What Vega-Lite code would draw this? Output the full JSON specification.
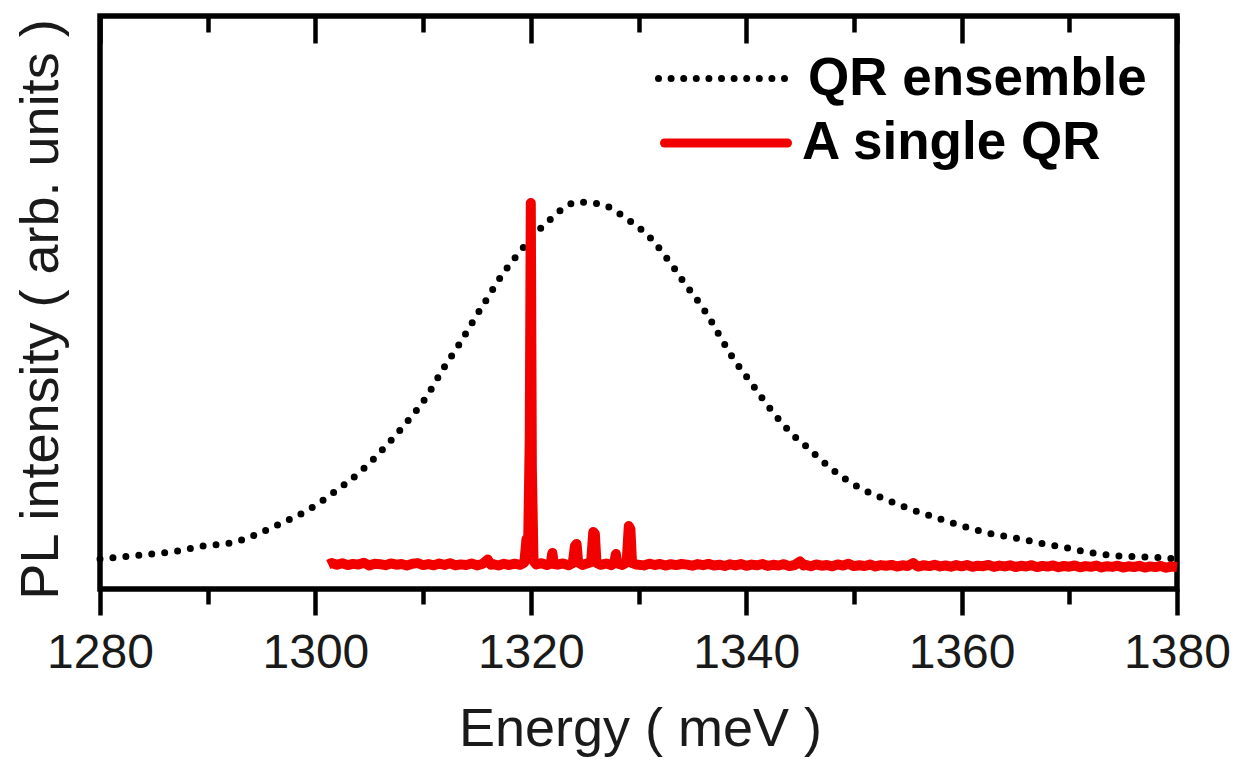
{
  "$schema": "https://vega.github.io/schema/vega-lite/v6.json",
  "autosize": "none",
  "width": 1077,
  "height": 573,
  "padding": {"left": 100, "top": 16, "right": 73, "bottom": 171},
  "background": "white",
  "config": {
    "view": {"stroke": "black", "strokeWidth": 5.5},
    "font": "Liberation Sans"
  },
  "datasets": {
    "ensemble": [
      {"energy": 1280.0, "intensity": 30, "series": "QR ensemble"},
      {"energy": 1280.93, "intensity": 31, "series": "QR ensemble"},
      {"energy": 1284.83, "intensity": 35, "series": "QR ensemble"},
      {"energy": 1287.24, "intensity": 38, "series": "QR ensemble"},
      {"energy": 1289.56, "intensity": 43, "series": "QR ensemble"},
      {"energy": 1292.07, "intensity": 46, "series": "QR ensemble"},
      {"energy": 1293.18, "intensity": 49, "series": "QR ensemble"},
      {"energy": 1294.39, "intensity": 54, "series": "QR ensemble"},
      {"energy": 1296.9, "intensity": 66, "series": "QR ensemble"},
      {"energy": 1299.31, "intensity": 79, "series": "QR ensemble"},
      {"energy": 1301.63, "intensity": 96, "series": "QR ensemble"},
      {"energy": 1304.14, "intensity": 117, "series": "QR ensemble"},
      {"energy": 1306.46, "intensity": 142, "series": "QR ensemble"},
      {"energy": 1308.5, "intensity": 167, "series": "QR ensemble"},
      {"energy": 1310.36, "intensity": 193, "series": "QR ensemble"},
      {"energy": 1311.85, "intensity": 220, "series": "QR ensemble"},
      {"energy": 1313.43, "intensity": 246, "series": "QR ensemble"},
      {"energy": 1314.82, "intensity": 271, "series": "QR ensemble"},
      {"energy": 1316.21, "intensity": 295, "series": "QR ensemble"},
      {"energy": 1316.95, "intensity": 308, "series": "QR ensemble"},
      {"energy": 1318.81, "intensity": 335, "series": "QR ensemble"},
      {"energy": 1319.74, "intensity": 347, "series": "QR ensemble"},
      {"energy": 1320.85, "intensity": 360, "series": "QR ensemble"},
      {"energy": 1322.06, "intensity": 372, "series": "QR ensemble"},
      {"energy": 1323.18, "intensity": 382, "series": "QR ensemble"},
      {"energy": 1324.38, "intensity": 387, "series": "QR ensemble"},
      {"energy": 1325.68, "intensity": 386, "series": "QR ensemble"},
      {"energy": 1326.8, "intensity": 384, "series": "QR ensemble"},
      {"energy": 1328.0, "intensity": 377, "series": "QR ensemble"},
      {"energy": 1329.21, "intensity": 368, "series": "QR ensemble"},
      {"energy": 1330.42, "intensity": 358, "series": "QR ensemble"},
      {"energy": 1331.53, "intensity": 346, "series": "QR ensemble"},
      {"energy": 1332.46, "intensity": 333, "series": "QR ensemble"},
      {"energy": 1333.3, "intensity": 321, "series": "QR ensemble"},
      {"energy": 1334.13, "intensity": 308, "series": "QR ensemble"},
      {"energy": 1335.25, "intensity": 292, "series": "QR ensemble"},
      {"energy": 1336.64, "intensity": 270, "series": "QR ensemble"},
      {"energy": 1337.38, "intensity": 256, "series": "QR ensemble"},
      {"energy": 1338.77, "intensity": 231, "series": "QR ensemble"},
      {"energy": 1340.54, "intensity": 205, "series": "QR ensemble"},
      {"energy": 1341.47, "intensity": 191, "series": "QR ensemble"},
      {"energy": 1343.32, "intensity": 166, "series": "QR ensemble"},
      {"energy": 1344.35, "intensity": 154, "series": "QR ensemble"},
      {"energy": 1345.65, "intensity": 142, "series": "QR ensemble"},
      {"energy": 1346.85, "intensity": 130, "series": "QR ensemble"},
      {"energy": 1348.06, "intensity": 119, "series": "QR ensemble"},
      {"energy": 1350.38, "intensity": 102, "series": "QR ensemble"},
      {"energy": 1352.89, "intensity": 90, "series": "QR ensemble"},
      {"energy": 1355.21, "intensity": 80, "series": "QR ensemble"},
      {"energy": 1357.72, "intensity": 71, "series": "QR ensemble"},
      {"energy": 1360.04, "intensity": 63, "series": "QR ensemble"},
      {"energy": 1362.45, "intensity": 56, "series": "QR ensemble"},
      {"energy": 1364.96, "intensity": 51, "series": "QR ensemble"},
      {"energy": 1367.28, "intensity": 46, "series": "QR ensemble"},
      {"energy": 1369.79, "intensity": 41, "series": "QR ensemble"},
      {"energy": 1372.2, "intensity": 36, "series": "QR ensemble"},
      {"energy": 1374.71, "intensity": 33, "series": "QR ensemble"},
      {"energy": 1377.03, "intensity": 32, "series": "QR ensemble"},
      {"energy": 1378.89, "intensity": 31, "series": "QR ensemble"},
      {"energy": 1380.0, "intensity": 30, "series": "QR ensemble"}
    ],
    "single": [
      {"energy": 1301.2, "intensity": 24.5, "series": "A single QR"},
      {"energy": 1301.5, "intensity": 26.0, "series": "A single QR"},
      {"energy": 1302.0, "intensity": 24.2, "series": "A single QR"},
      {"energy": 1302.5, "intensity": 25.8, "series": "A single QR"},
      {"energy": 1303.0, "intensity": 23.9, "series": "A single QR"},
      {"energy": 1303.5, "intensity": 25.1, "series": "A single QR"},
      {"energy": 1304.0, "intensity": 24.4, "series": "A single QR"},
      {"energy": 1304.5, "intensity": 26.2, "series": "A single QR"},
      {"energy": 1305.0, "intensity": 23.6, "series": "A single QR"},
      {"energy": 1305.5, "intensity": 25.3, "series": "A single QR"},
      {"energy": 1306.0, "intensity": 24.8, "series": "A single QR"},
      {"energy": 1306.5, "intensity": 23.8, "series": "A single QR"},
      {"energy": 1307.0, "intensity": 25.6, "series": "A single QR"},
      {"energy": 1307.5, "intensity": 24.3, "series": "A single QR"},
      {"energy": 1308.0, "intensity": 25.0, "series": "A single QR"},
      {"energy": 1308.5, "intensity": 23.5, "series": "A single QR"},
      {"energy": 1309.0, "intensity": 25.2, "series": "A single QR"},
      {"energy": 1309.5, "intensity": 25.9, "series": "A single QR"},
      {"energy": 1310.0, "intensity": 23.9, "series": "A single QR"},
      {"energy": 1310.5, "intensity": 24.9, "series": "A single QR"},
      {"energy": 1311.0, "intensity": 23.7, "series": "A single QR"},
      {"energy": 1311.5, "intensity": 25.4, "series": "A single QR"},
      {"energy": 1312.0, "intensity": 24.1, "series": "A single QR"},
      {"energy": 1312.5, "intensity": 25.7, "series": "A single QR"},
      {"energy": 1313.0, "intensity": 23.8, "series": "A single QR"},
      {"energy": 1313.5, "intensity": 24.6, "series": "A single QR"},
      {"energy": 1314.0, "intensity": 24.0, "series": "A single QR"},
      {"energy": 1314.5, "intensity": 25.5, "series": "A single QR"},
      {"energy": 1315.0, "intensity": 23.6, "series": "A single QR"},
      {"energy": 1315.5, "intensity": 25.0, "series": "A single QR"},
      {"energy": 1316.0, "intensity": 29.5, "series": "A single QR"},
      {"energy": 1316.3, "intensity": 24.2, "series": "A single QR"},
      {"energy": 1316.5, "intensity": 24.8, "series": "A single QR"},
      {"energy": 1317.0, "intensity": 23.5, "series": "A single QR"},
      {"energy": 1317.5, "intensity": 25.2, "series": "A single QR"},
      {"energy": 1318.0, "intensity": 24.0, "series": "A single QR"},
      {"energy": 1318.5, "intensity": 25.3, "series": "A single QR"},
      {"energy": 1319.0, "intensity": 24.2, "series": "A single QR"},
      {"energy": 1319.4, "intensity": 26.5, "series": "A single QR"},
      {"energy": 1319.6, "intensity": 50, "series": "A single QR"},
      {"energy": 1319.75, "intensity": 42, "series": "A single QR"},
      {"energy": 1319.9, "intensity": 150, "series": "A single QR"},
      {"energy": 1320.0, "intensity": 386, "series": "A single QR"},
      {"energy": 1320.1, "intensity": 120, "series": "A single QR"},
      {"energy": 1320.25, "intensity": 28, "series": "A single QR"},
      {"energy": 1320.5, "intensity": 24.5, "series": "A single QR"},
      {"energy": 1321.0, "intensity": 25.8, "series": "A single QR"},
      {"energy": 1321.5, "intensity": 23.9, "series": "A single QR"},
      {"energy": 1321.85, "intensity": 25.5, "series": "A single QR"},
      {"energy": 1322.0, "intensity": 36, "series": "A single QR"},
      {"energy": 1322.15, "intensity": 25.0, "series": "A single QR"},
      {"energy": 1322.5, "intensity": 24.3, "series": "A single QR"},
      {"energy": 1323.0, "intensity": 25.6, "series": "A single QR"},
      {"energy": 1323.5, "intensity": 23.8, "series": "A single QR"},
      {"energy": 1323.9, "intensity": 26.0, "series": "A single QR"},
      {"energy": 1324.1, "intensity": 43, "series": "A single QR"},
      {"energy": 1324.25, "intensity": 45, "series": "A single QR"},
      {"energy": 1324.4, "intensity": 26.5, "series": "A single QR"},
      {"energy": 1324.8, "intensity": 24.0, "series": "A single QR"},
      {"energy": 1325.2, "intensity": 25.4, "series": "A single QR"},
      {"energy": 1325.6, "intensity": 27, "series": "A single QR"},
      {"energy": 1325.8, "intensity": 57, "series": "A single QR"},
      {"energy": 1325.95, "intensity": 55, "series": "A single QR"},
      {"energy": 1326.1, "intensity": 26, "series": "A single QR"},
      {"energy": 1326.5, "intensity": 24.2, "series": "A single QR"},
      {"energy": 1327.0, "intensity": 25.5, "series": "A single QR"},
      {"energy": 1327.5, "intensity": 23.9, "series": "A single QR"},
      {"energy": 1327.75, "intensity": 26, "series": "A single QR"},
      {"energy": 1327.9, "intensity": 35, "series": "A single QR"},
      {"energy": 1328.05, "intensity": 25.5, "series": "A single QR"},
      {"energy": 1328.5, "intensity": 24.1, "series": "A single QR"},
      {"energy": 1328.9, "intensity": 26.5, "series": "A single QR"},
      {"energy": 1329.1, "intensity": 63, "series": "A single QR"},
      {"energy": 1329.25, "intensity": 60, "series": "A single QR"},
      {"energy": 1329.4, "intensity": 26, "series": "A single QR"},
      {"energy": 1329.8, "intensity": 24.5, "series": "A single QR"},
      {"energy": 1330.5, "intensity": 23.6, "series": "A single QR"},
      {"energy": 1331.0, "intensity": 25.3, "series": "A single QR"},
      {"energy": 1331.5, "intensity": 24.0, "series": "A single QR"},
      {"energy": 1332.0, "intensity": 25.1, "series": "A single QR"},
      {"energy": 1332.5, "intensity": 23.4, "series": "A single QR"},
      {"energy": 1333.0, "intensity": 24.8, "series": "A single QR"},
      {"energy": 1333.5, "intensity": 23.9, "series": "A single QR"},
      {"energy": 1334.0, "intensity": 25.0, "series": "A single QR"},
      {"energy": 1334.5, "intensity": 24.4, "series": "A single QR"},
      {"energy": 1335.0, "intensity": 23.3, "series": "A single QR"},
      {"energy": 1335.5, "intensity": 24.9, "series": "A single QR"},
      {"energy": 1336.0, "intensity": 23.8, "series": "A single QR"},
      {"energy": 1336.5, "intensity": 25.1, "series": "A single QR"},
      {"energy": 1337.0, "intensity": 23.5, "series": "A single QR"},
      {"energy": 1337.5, "intensity": 24.3, "series": "A single QR"},
      {"energy": 1338.0, "intensity": 23.0, "series": "A single QR"},
      {"energy": 1338.5, "intensity": 24.7, "series": "A single QR"},
      {"energy": 1339.0, "intensity": 23.6, "series": "A single QR"},
      {"energy": 1339.5, "intensity": 24.9, "series": "A single QR"},
      {"energy": 1340.0, "intensity": 23.2, "series": "A single QR"},
      {"energy": 1340.5, "intensity": 24.4, "series": "A single QR"},
      {"energy": 1341.0, "intensity": 23.7, "series": "A single QR"},
      {"energy": 1341.5, "intensity": 25.0, "series": "A single QR"},
      {"energy": 1342.0, "intensity": 23.1, "series": "A single QR"},
      {"energy": 1342.5, "intensity": 24.2, "series": "A single QR"},
      {"energy": 1343.0, "intensity": 23.5, "series": "A single QR"},
      {"energy": 1343.5, "intensity": 24.8, "series": "A single QR"},
      {"energy": 1344.0, "intensity": 22.9, "series": "A single QR"},
      {"energy": 1344.5, "intensity": 24.0, "series": "A single QR"},
      {"energy": 1345.0, "intensity": 27.5, "series": "A single QR"},
      {"energy": 1345.3, "intensity": 23.6, "series": "A single QR"},
      {"energy": 1345.5, "intensity": 24.3, "series": "A single QR"},
      {"energy": 1346.0, "intensity": 22.8, "series": "A single QR"},
      {"energy": 1346.5, "intensity": 24.5, "series": "A single QR"},
      {"energy": 1347.0, "intensity": 23.3, "series": "A single QR"},
      {"energy": 1347.5, "intensity": 24.0, "series": "A single QR"},
      {"energy": 1348.0, "intensity": 22.7, "series": "A single QR"},
      {"energy": 1348.5, "intensity": 24.6, "series": "A single QR"},
      {"energy": 1349.0, "intensity": 23.4, "series": "A single QR"},
      {"energy": 1349.5, "intensity": 25.2, "series": "A single QR"},
      {"energy": 1350.0, "intensity": 22.9, "series": "A single QR"},
      {"energy": 1350.5, "intensity": 23.8, "series": "A single QR"},
      {"energy": 1351.0, "intensity": 23.0, "series": "A single QR"},
      {"energy": 1351.5, "intensity": 24.4, "series": "A single QR"},
      {"energy": 1352.0, "intensity": 22.6, "series": "A single QR"},
      {"energy": 1352.5, "intensity": 23.9, "series": "A single QR"},
      {"energy": 1353.0, "intensity": 23.2, "series": "A single QR"},
      {"energy": 1353.5, "intensity": 24.1, "series": "A single QR"},
      {"energy": 1354.0, "intensity": 22.5, "series": "A single QR"},
      {"energy": 1354.5, "intensity": 23.7, "series": "A single QR"},
      {"energy": 1355.0, "intensity": 23.0, "series": "A single QR"},
      {"energy": 1355.5, "intensity": 26.0, "series": "A single QR"},
      {"energy": 1355.8, "intensity": 23.4, "series": "A single QR"},
      {"energy": 1356.0, "intensity": 22.4, "series": "A single QR"},
      {"energy": 1356.5, "intensity": 23.8, "series": "A single QR"},
      {"energy": 1357.0, "intensity": 22.9, "series": "A single QR"},
      {"energy": 1357.5, "intensity": 24.2, "series": "A single QR"},
      {"energy": 1358.0, "intensity": 22.6, "series": "A single QR"},
      {"energy": 1358.5, "intensity": 23.5, "series": "A single QR"},
      {"energy": 1359.0, "intensity": 22.3, "series": "A single QR"},
      {"energy": 1359.5, "intensity": 23.9, "series": "A single QR"},
      {"energy": 1360.0, "intensity": 22.7, "series": "A single QR"},
      {"energy": 1360.5, "intensity": 24.0, "series": "A single QR"},
      {"energy": 1361.0, "intensity": 22.2, "series": "A single QR"},
      {"energy": 1361.5, "intensity": 23.3, "series": "A single QR"},
      {"energy": 1362.0, "intensity": 22.8, "series": "A single QR"},
      {"energy": 1362.5, "intensity": 24.1, "series": "A single QR"},
      {"energy": 1363.0, "intensity": 22.1, "series": "A single QR"},
      {"energy": 1363.5, "intensity": 23.4, "series": "A single QR"},
      {"energy": 1364.0, "intensity": 22.6, "series": "A single QR"},
      {"energy": 1364.5, "intensity": 23.7, "series": "A single QR"},
      {"energy": 1365.0, "intensity": 22.0, "series": "A single QR"},
      {"energy": 1365.5, "intensity": 23.2, "series": "A single QR"},
      {"energy": 1366.0, "intensity": 22.5, "series": "A single QR"},
      {"energy": 1366.5, "intensity": 23.8, "series": "A single QR"},
      {"energy": 1367.0, "intensity": 21.9, "series": "A single QR"},
      {"energy": 1367.5, "intensity": 23.1, "series": "A single QR"},
      {"energy": 1368.0, "intensity": 22.4, "series": "A single QR"},
      {"energy": 1368.5, "intensity": 23.6, "series": "A single QR"},
      {"energy": 1369.0, "intensity": 21.8, "series": "A single QR"},
      {"energy": 1369.5, "intensity": 23.0, "series": "A single QR"},
      {"energy": 1370.0, "intensity": 22.3, "series": "A single QR"},
      {"energy": 1370.5, "intensity": 23.5, "series": "A single QR"},
      {"energy": 1371.0, "intensity": 21.7, "series": "A single QR"},
      {"energy": 1371.5, "intensity": 22.9, "series": "A single QR"},
      {"energy": 1372.0, "intensity": 22.2, "series": "A single QR"},
      {"energy": 1372.5, "intensity": 23.4, "series": "A single QR"},
      {"energy": 1373.0, "intensity": 21.6, "series": "A single QR"},
      {"energy": 1373.5, "intensity": 22.8, "series": "A single QR"},
      {"energy": 1374.0, "intensity": 22.1, "series": "A single QR"},
      {"energy": 1374.5, "intensity": 23.3, "series": "A single QR"},
      {"energy": 1375.0, "intensity": 21.5, "series": "A single QR"},
      {"energy": 1375.5, "intensity": 22.7, "series": "A single QR"},
      {"energy": 1376.0, "intensity": 22.0, "series": "A single QR"},
      {"energy": 1376.5, "intensity": 23.2, "series": "A single QR"},
      {"energy": 1377.0, "intensity": 21.4, "series": "A single QR"},
      {"energy": 1377.5, "intensity": 22.6, "series": "A single QR"},
      {"energy": 1378.0, "intensity": 21.9, "series": "A single QR"},
      {"energy": 1378.5, "intensity": 23.1, "series": "A single QR"},
      {"energy": 1379.0, "intensity": 21.3, "series": "A single QR"},
      {"energy": 1379.5, "intensity": 22.5, "series": "A single QR"},
      {"energy": 1380.0, "intensity": 22.0, "series": "A single QR"}
    ]
  },
  "resolve": {
    "axis": {"x": "independent", "y": "independent"},
    "scale": {"color": "independent"}
  },
  "layer": [
    {
      "data": {"name": "ensemble"},
      "mark": {"type": "line", "strokeWidth": 7, "strokeDash": [0, 13], "strokeCap": "round", "interpolate": "monotone"},
      "encoding": {
        "x": {
          "field": "energy", "type": "quantitative",
          "scale": {"domain": [1280, 1380], "nice": false, "zero": false},
          "axis": {
            "orient": "bottom",
            "values": [1280, 1290, 1300, 1310, 1320, 1330, 1340, 1350, 1360, 1370, 1380],
            "labelExpr": "datum.value % 20 === 0 ? datum.label : ''",
            "format": "d",
            "domain": false, "grid": false,
            "ticks": true, "tickColor": "black", "tickWidth": 4.5,
            "tickSize": {"condition": {"test": "datum.value % 20 === 0", "value": 26}, "value": 15},
            "labelFont": "Liberation Sans", "labelFontSize": 48, "labelColor": "#1a1a1a",
            "labelPadding": 14, "labelFlush": false, "labelOverlap": false,
            "title": "Energy ( meV )",
            "titleFont": "Liberation Sans", "titleFontSize": 54, "titleFontWeight": "normal", "titleColor": "#1a1a1a",
            "titleX": 540, "titleY": 156, "titleBaseline": "alphabetic", "titleAlign": "center"
          }
        },
        "y": {
          "field": "intensity", "type": "quantitative",
          "scale": {"domain": [0, 573], "nice": false, "zero": false},
          "axis": {
            "orient": "left", "domain": false, "ticks": false, "labels": false, "grid": false,
            "title": "PL intensity ( arb. units )",
            "titleFont": "Liberation Sans", "titleFontSize": 54, "titleFontWeight": "normal", "titleColor": "#1a1a1a",
            "titleAngle": -90, "titleX": -43, "titleY": 293, "titleBaseline": "alphabetic", "titleAlign": "center"
          }
        },
        "color": {
          "field": "series", "type": "nominal",
          "scale": {"domain": ["QR ensemble"], "range": ["black"]},
          "legend": {
            "orient": "none", "legendX": 555, "legendY": -6, "padding": 0,
            "title": null,
            "symbolType": "stroke", "symbolSize": 16900, "symbolStrokeWidth": 7,
            "symbolDash": [0, 12.6], "symbolStrokeColor": "black",
            "labelFont": "Liberation Sans", "labelFontSize": 53, "labelFontWeight": "bold",
            "labelColor": "black", "labelOffset": 16, "labelLimit": 600,
            "encode": {"symbols": {"update": {"strokeCap": {"value": "round"}}}}
          }
        }
      }
    },
    {
      "data": {"name": "single"},
      "mark": {"type": "line", "strokeWidth": 10, "strokeJoin": "round", "strokeCap": "butt"},
      "encoding": {
        "x": {
          "field": "energy", "type": "quantitative",
          "scale": {"domain": [1280, 1380], "nice": false, "zero": false},
          "axis": {
            "orient": "top",
            "values": [1280, 1290, 1300, 1310, 1320, 1330, 1340, 1350, 1360, 1370, 1380],
            "labels": false, "domain": false, "grid": false,
            "ticks": true, "tickColor": "black", "tickWidth": 4.5,
            "tickSize": {"condition": {"test": "datum.value % 20 === 0", "value": -27}, "value": -16},
            "title": null
          }
        },
        "y": {
          "field": "intensity", "type": "quantitative",
          "scale": {"domain": [0, 573], "nice": false, "zero": false},
          "axis": null
        },
        "color": {
          "field": "series", "type": "nominal",
          "scale": {"domain": ["A single QR"], "range": ["#f20000"]},
          "legend": {
            "orient": "none", "legendX": 560, "legendY": 61, "padding": 0,
            "title": null,
            "symbolType": "stroke", "symbolSize": 15129, "symbolStrokeWidth": 9,
            "symbolStrokeColor": "#f20000",
            "labelFont": "Liberation Sans", "labelFontSize": 53, "labelFontWeight": "bold",
            "labelColor": "black", "labelOffset": 10, "labelLimit": 600,
            "encode": {"symbols": {"update": {"strokeCap": {"value": "round"}}}}
          }
        }
      }
    }
  ]
}
